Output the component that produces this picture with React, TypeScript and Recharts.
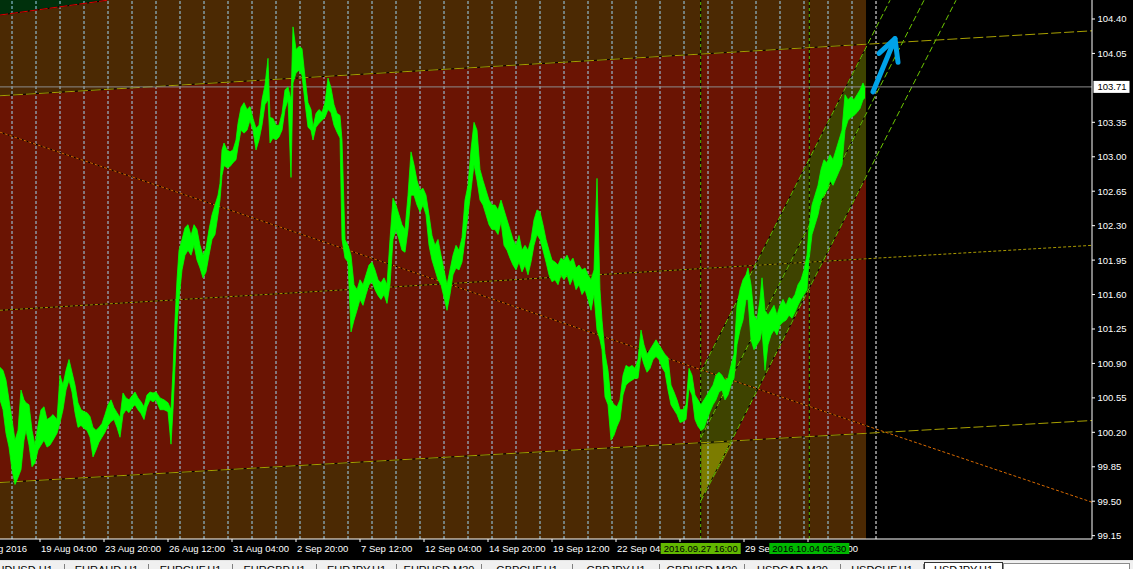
import React from "react";
import {
  ComposedChart, Area, Line, XAxis, YAxis, ReferenceLine, ReferenceArea,
} from "recharts";

// USDJPY H1, one x unit = one hourly bar (bar 0 = first visible bar, 17 Aug 2016)
const Y_MIN = 99.116;
const Y_MAX = 104.593;
const LAST_BAR = 866;
const RIGHT_EDGE = 1092;

// [bar, high, low]
const legAug17 = [
  [0, 100.86, 100.53], [3, 100.83, 100.43], [6, 100.73, 100.19], [9, 100.53, 100.05], [12, 100.33, 99.82],
  [15, 100.12, 99.67], [18, 100.22, 99.74], [21, 100.63, 99.82], [24, 100.53, 100.12], [26, 100.5, 100.22],
  [29, 100.48, 100.07], [32, 100.22, 99.85], [35, 100.07, 99.89], [38, 100.27, 100.02], [41, 100.43, 100.07],
  [44, 100.46, 100.12], [47, 100.33, 100.05], [50, 100.35, 100.07], [53, 100.38, 100.12], [57, 100.33, 100.19],
  [60, 100.78, 100.3], [63, 100.68, 100.43], [66, 100.83, 100.63], [69, 100.94, 100.73], [72, 100.81, 100.61],
  [75, 100.68, 100.4], [78, 100.5, 100.25], [81, 100.43, 100.27], [84, 100.41, 100.24], [87, 100.4, 100.22],
  [90, 100.36, 100.15], [93, 100.25, 99.95], [96, 100.22, 100.02], [99, 100.25, 100.1], [102, 100.29, 100.15],
  [105, 100.38, 100.2], [108, 100.48, 100.27], [111, 100.53, 100.31], [114, 100.45, 100.33], [117, 100.4, 100.25],
  [120, 100.35, 100.15], [123, 100.6, 100.38], [126, 100.55, 100.43], [129, 100.53, 100.4], [132, 100.57, 100.45],
  [135, 100.61, 100.48], [138, 100.55, 100.43], [141, 100.51, 100.39], [144, 100.46, 100.33], [147, 100.58, 100.46],
  [150, 100.61, 100.53], [153, 100.6, 100.51], [156, 100.61, 100.53], [160, 100.55, 100.43], [164, 100.53, 100.43],
  [168, 100.5, 100.41], [171, 100.43, 100.08], [173, 100.83, 100.43], [175, 101.34, 100.86], [177, 101.75, 101.29],
];

const legAug26 = [
  [179, 102.05, 101.55], [182, 102.16, 101.85], [185, 102.28, 102.0], [188, 102.31, 102.05], [191, 102.2, 102.0],
  [194, 102.31, 102.1], [197, 102.26, 101.95], [200, 102.1, 101.87], [203, 102.0, 101.77], [206, 102.07, 101.83],
  [209, 102.26, 102.0], [212, 102.41, 102.16], [215, 102.51, 102.21], [218, 102.61, 102.41], [220, 102.73, 102.56],
  [222, 103.07, 102.81], [224, 103.14, 102.91], [227, 103.07, 102.89], [230, 103.05, 102.9], [233, 103.07, 102.94],
  [236, 103.17, 102.97], [238, 103.34, 103.1], [241, 103.5, 103.27], [244, 103.55, 103.24], [247, 103.48, 103.27],
  [250, 103.51, 103.37], [253, 103.39, 103.27], [256, 103.29, 103.07], [259, 103.32, 103.17], [262, 103.58, 103.32],
  [265, 103.73, 103.53], [268, 104.0, 103.58], [270, 103.4, 103.14], [273, 103.39, 103.19], [276, 103.32, 103.17],
  [279, 103.32, 103.2], [282, 103.44, 103.27], [285, 103.68, 103.48], [288, 103.71, 103.58], [291, 103.58, 102.79],
  [293, 104.32, 103.75], [296, 104.09, 103.85], [299, 104.12, 103.88], [302, 104.1, 103.83], [305, 103.81, 103.55],
  [308, 103.55, 103.3], [311, 103.48, 103.27], [313, 103.3, 103.17], [316, 103.44, 103.3], [319, 103.48, 103.34],
  [322, 103.45, 103.37], [325, 103.55, 103.4], [328, 103.8, 103.48], [331, 103.7, 103.45], [334, 103.53, 103.32],
  [337, 103.44, 103.25], [340, 103.42, 103.19], [342, 103.17, 102.16],
];

const legSep2 = [
  [345, 102.16, 101.97], [348, 102.1, 101.93], [351, 102.0, 101.22], [354, 101.7, 101.34], [357, 101.65, 101.44],
  [360, 101.75, 101.55], [363, 101.7, 101.49], [366, 101.8, 101.6], [369, 101.9, 101.7], [372, 101.93, 101.73],
  [375, 101.85, 101.65], [378, 101.75, 101.59], [381, 101.72, 101.55], [384, 101.77, 101.6], [387, 101.7, 101.51],
  [390, 102.16, 101.7], [393, 102.58, 102.16], [396, 102.51, 102.26], [399, 102.41, 102.16], [402, 102.31, 102.05],
  [405, 102.26, 102.03], [408, 102.61, 102.26], [411, 103.05, 102.61], [414, 102.92, 102.61], [417, 102.76, 102.51],
  [420, 102.66, 102.44], [423, 102.68, 102.51], [426, 102.61, 102.41], [429, 102.41, 102.1], [432, 102.2, 101.95],
  [435, 102.1, 101.85], [438, 102.16, 101.75], [441, 102.0, 101.7], [444, 101.85, 101.57], [447, 101.7, 101.44],
  [450, 101.85, 101.6], [453, 102.0, 101.8], [456, 102.1, 101.87], [459, 102.05, 101.85], [462, 102.18, 101.93],
  [465, 102.56, 102.16], [468, 102.71, 102.41], [471, 103.07, 102.66], [474, 103.35, 102.92], [477, 103.27, 102.76],
  [480, 102.87, 102.56], [483, 102.76, 102.51], [486, 102.66, 102.41], [489, 102.56, 102.31], [492, 102.51, 102.26],
  [495, 102.51, 102.26], [498, 102.46, 102.21], [501, 102.56, 102.34], [504, 102.46, 102.1], [507, 102.36, 102.05],
  [510, 102.26, 101.97], [513, 102.16, 101.9], [516, 102.1, 101.85], [519, 102.2, 101.93], [522, 102.05, 101.83],
  [525, 102.1, 101.9], [528, 102.05, 101.8], [531, 102.16, 101.93], [534, 102.36, 102.1], [537, 102.46, 102.21],
  [540, 102.44, 102.16], [543, 102.31, 102.05], [546, 102.16, 101.93], [549, 102.05, 101.8], [552, 101.95, 101.73],
  [555, 101.93, 101.75], [558, 101.9, 101.7], [561, 101.97, 101.8], [564, 101.95, 101.75], [567, 102.0, 101.8],
  [570, 101.93, 101.7], [573, 101.97, 101.77], [576, 101.87, 101.65], [579, 101.9, 101.7], [582, 101.85, 101.6],
  [585, 101.87, 101.65], [588, 101.8, 101.55], [591, 101.75, 101.44], [594, 101.85, 101.6], [597, 102.78, 101.24],
  [600, 101.65, 101.14], [602, 101.34, 101.04],
];

const legSep20 = [
  [605, 101.0, 100.56], [608, 100.83, 100.48], [611, 100.53, 100.12], [614, 100.48, 100.17], [617, 100.46, 100.26],
  [620, 100.53, 100.33], [623, 100.78, 100.58], [626, 100.88, 100.68], [629, 100.86, 100.71], [632, 100.88, 100.73],
  [635, 100.85, 100.75], [638, 100.94, 100.75], [641, 101.24, 100.99], [644, 101.09, 100.89], [647, 100.99, 100.81],
  [650, 101.04, 100.85], [653, 101.09, 100.94], [656, 101.14, 100.97], [659, 101.09, 100.94], [662, 101.04, 100.86],
  [665, 100.99, 100.81], [668, 100.96, 100.63], [671, 100.68, 100.48], [674, 100.61, 100.43], [677, 100.53, 100.38],
  [680, 100.43, 100.3], [683, 100.43, 100.31], [686, 100.48, 100.33], [689, 100.85, 100.65], [692, 100.78, 100.58],
  [695, 100.58, 100.33], [698, 100.53, 100.26], [701, 100.48, 100.22], [704, 100.53, 100.24], [707, 100.58, 100.33],
  [710, 100.63, 100.41], [713, 100.68, 100.48], [716, 100.78, 100.53], [719, 100.81, 100.61], [722, 100.78, 100.63],
  [725, 100.73, 100.53], [728, 100.75, 100.58], [731, 100.88, 100.68], [734, 100.99, 100.75], [737, 101.49, 101.09],
  [740, 101.65, 101.24], [743, 101.75, 101.34], [746, 101.8, 101.55], [748, 101.87, 101.55], [751, 101.7, 101.14],
  [754, 101.39, 101.04], [757, 101.34, 101.09], [760, 101.55, 101.14], [762, 101.77, 101.24], [765, 101.44, 100.83],
  [768, 101.39, 101.09], [771, 101.44, 101.19], [774, 101.49, 101.24], [777, 101.39, 101.19], [780, 101.49, 101.29],
  [783, 101.55, 101.32], [786, 101.49, 101.34], [789, 101.57, 101.39], [792, 101.55, 101.36], [795, 101.6, 101.42],
  [798, 101.7, 101.49], [801, 101.75, 101.55], [804, 101.85, 101.6], [807, 102.0, 101.65], [809, 102.28, 101.95],
  [812, 102.51, 102.21], [815, 102.61, 102.31], [818, 102.71, 102.41], [821, 102.87, 102.56], [824, 102.97, 102.61],
  [827, 102.94, 102.66], [830, 103.02, 102.76], [833, 102.97, 102.71], [836, 103.07, 102.78], [839, 103.17, 102.85],
  [842, 103.27, 102.92], [845, 103.63, 103.27], [848, 103.58, 103.37], [851, 103.61, 103.4], [854, 103.58, 103.42],
  [857, 103.63, 103.45], [860, 103.68, 103.49], [863, 103.75, 103.58], [865, 103.7, 103.6],
];

const bidPrice = 103.71;

const timeTickBars = [0, 40, 104, 168, 232, 296, 360, 424, 488, 552, 616, 680, 744, 808];
const timeTickLabels = [
  "17 Aug 2016", "19 Aug 04:00", "23 Aug 20:00", "26 Aug 12:00", "31 Aug 04:00", "2 Sep 20:00", "7 Sep 12:00",
  "12 Sep 04:00", "14 Sep 20:00", "19 Sep 12:00", "22 Sep 04:00", "26 Sep 20:00", "29 Sep 12:00", "4 Oct 04:00",
];
const markerBars = [700.7, 809.3];
const markerLabels = ["2016.09.27 16:00", "2016.10.04 05:30"];
const markerFills = ["#62b800", "#00b800"];

const priceTicks = [
  104.4, 104.05, 103.35, 103.0, 102.65, 102.3, 101.95, 101.6, 101.25, 100.9, 100.55, 100.2, 99.85, 99.5, 99.15,
];

const gridBars = [
  12, 36, 60, 84, 108, 132, 156, 180, 204, 228, 252, 276, 300, 324, 348, 372, 396, 420, 444,
  468, 492, 516, 540, 564, 588, 612, 636, 660, 684, 708, 732, 756, 780, 804, 828, 852, 876,
];

// long channel (red), its mid line and the falling trend line
const channelBars = [0, 1092];
const channelUpper = [103.62, 104.28];
const channelLower = [99.69, 100.32];
const channelMid = [101.44, 102.1];
const fallingLine = [103.25, 99.49];
const channelFillBars = [0, 866];
const channelFillTop = [103.62, 104.14];
const channelFillBottom = [99.69, 100.19];

// upper channel corner (top left)
const cornerBars = [0, 107];
const cornerEdge = [104.44, 104.59];

// rising channel from 27 Sep
const riseFillBars = [700.7, 866];
const riseFillTop = [100.81, 104.11];
const riseFillBottom = [99.5, 102.8];
const riseTipBars = [700.7, 733];
const riseTipTop = [100.08, 100.1];
const riseTipBottom = [99.5, 100.1];
const riseUpperBars = [700.7, 890];
const riseUpper = [100.81, 104.59];
const riseMidBars = [700.7, 924];
const riseMid = [100.14, 104.59];
const riseLowerBars = [700.7, 956];
const riseLower = [99.5, 104.59];

// hand-drawn arrow
const arrowBars = [873, 895, 898];
const arrowPrices = [103.66, 104.2, 103.96];
const arrowWingBars = [879, 895];
const arrowWingPrices = [104.05, 104.2];

const tabNames = [
  "AUDUSD,H1", "EURAUD,H1", "EURCHF,H1", "EURGBP,H1", "EURJPY,H1", "EURUSD,M30",
  "GBPCHF,H1", "GBPJPY,H1", "GBPUSD,M30", "USDCAD,M30", "USDCHF,H1", "USDJPY,H1",
];
const tabEdges = [-22, 65, 149, 233, 317, 397, 482, 573, 660, 745, 841, 924, 1003];

const FONT = "'Liberation Sans', Arial, sans-serif";

const pts = (bars: number[], vals: number[]) => bars.map((x, i) => ({ x, y: vals[i] }));
const band = (bars: number[], lo: number[], hi: number[]) => bars.map((x, i) => ({ x, y: [lo[i], hi[i]] }));

const priceData = [...legAug17, ...legAug26, ...legSep2, ...legSep20].map(([x, h, l]) => ({ x, y: [l, h] }));

function TimeTick(props: any) {
  const { x, y, payload } = props;
  const v = payload.value;
  const m = markerBars.indexOf(v);
  if (m >= 0) {
    return (
      <g>
        <rect x={x - 40} y={y + 4} width={80} height={11} fill={markerFills[m]} />
        <text x={x} y={y + 12.7} textAnchor="middle" fill="#000" fontSize={9.5} fontFamily={FONT}>
          {markerLabels[m]}
        </text>
      </g>
    );
  }
  const i = timeTickBars.indexOf(v);
  if (i === 0) {
    return (
      <text x={x + 27} y={y + 12.7} textAnchor="end" fill="#fff" fontSize={9.5} fontFamily={FONT}>
        {timeTickLabels[i]}
      </text>
    );
  }
  return (
    <g>
      <line x1={x} x2={x} y1={y} y2={y + 3} stroke="#fff" />
      <text x={x + 1} y={y + 12.7} fill="#fff" fontSize={9.5} fontFamily={FONT}>
        {timeTickLabels[i]}
      </text>
    </g>
  );
}

function PriceTick(props: any) {
  const { x, y, payload } = props;
  const v = payload.value;
  if (v === bidPrice) {
    return (
      <g>
        <rect x={x + 1.5} y={y - 6} width={36} height={12} fill="#fff" />
        <text x={x + 5.5} y={y + 3.5} fill="#000" fontSize={9.5} fontFamily={FONT}>
          {v.toFixed(2)}
        </text>
      </g>
    );
  }
  return (
    <g>
      <line x1={x} x2={x + 3} y1={y} y2={y} stroke="#fff" />
      <text x={x + 5.5} y={y + 3.5} fill="#fff" fontSize={9.5} fontFamily={FONT}>
        {v.toFixed(2)}
      </text>
    </g>
  );
}

// dashed MT4 style line: background-coloured gaps under a coloured dash
function dashedPair(key: string, data: any[], color: string, dash: string, z: number) {
  return [
    <Line key={key + "-bg"} data={data} dataKey="y" stroke="#000" strokeWidth={1} dot={false} activeDot={false}
      isAnimationActive={false} zIndex={z} />,
    <Line key={key} data={data} dataKey="y" stroke={color} strokeWidth={1} strokeDasharray={dash} dot={false}
      activeDot={false} isAnimationActive={false} zIndex={z + 1} />,
  ];
}

export default function App() {
  const active = tabNames.length - 1;
  return (
    <div style={{ position: "fixed", left: 0, top: 0, width: 1133, height: 569, background: "#000", overflow: "hidden" }}>
      <ComposedChart width={1133} height={560} margin={{ top: 0, right: 0, bottom: 0, left: 0 }}>
        <XAxis
          dataKey="x"
          type="number"
          domain={[0, RIGHT_EDGE]}
          allowDataOverflow
          ticks={[...timeTickBars, ...markerBars]}
          interval={0}
          tick={<TimeTick />}
          tickLine={false}
          tickSize={0}
          tickMargin={0}
          height={21}
          axisLine={{ stroke: "#fff" }}
        />
        <YAxis
          orientation="right"
          type="number"
          domain={[Y_MIN, Y_MAX]}
          allowDataOverflow
          ticks={[...priceTicks, bidPrice]}
          interval={0}
          tick={<PriceTick />}
          tickLine={false}
          tickSize={0}
          tickMargin={0}
          width={41}
          axisLine={{ stroke: "#fff" }}
        />

        <ReferenceArea x1={0} x2={LAST_BAR} y1={Y_MIN} y2={Y_MAX} fill="#4b2903" fillOpacity={1} stroke="none"
          ifOverflow="visible" zIndex={50} />

        <Area data={cornerBars.map((x, i) => ({ x, y: [cornerEdge[i], Y_MAX] }))} dataKey="y" type="linear"
          fill="#00300c" fillOpacity={1} stroke="none" dot={false} activeDot={false} isAnimationActive={false}
          zIndex={60} />
        <Area data={band(channelFillBars, channelFillBottom, channelFillTop)} dataKey="y" type="linear"
          fill="#6a1403" fillOpacity={1} stroke="none" dot={false} activeDot={false} isAnimationActive={false}
          zIndex={70} />
        <Area data={band(riseFillBars, riseFillBottom, riseFillTop)} dataKey="y" type="linear"
          fill="#3e4300" fillOpacity={1} stroke="none" dot={false} activeDot={false} isAnimationActive={false}
          zIndex={80} />
        <Area data={band(riseTipBars, riseTipBottom, riseTipTop)} dataKey="y" type="linear"
          fill="#7c7c00" fillOpacity={1} stroke="none" dot={false} activeDot={false} isAnimationActive={false}
          zIndex={90} />

        {gridBars.map((b) => (
          <ReferenceLine key={"g" + b} x={b} stroke={b > LAST_BAR ? "#ffffff" : "#9fd6f5"} strokeDasharray="3 2"
            zIndex={110} />
        ))}

        {markerBars.map((b) => (
          <ReferenceLine key={"mb" + b} x={b} stroke="#000" zIndex={120} />
        ))}
        {markerBars.map((b) => (
          <ReferenceLine key={"m" + b} x={b} stroke="#5cc000" strokeDasharray="3 3" zIndex={121} />
        ))}

        {dashedPair("corner", pts(cornerBars, cornerEdge), "#e00000", "8 2", 130)}
        {dashedPair("upper", pts(channelBars, channelUpper), "#a8a000", "10 3", 132)}
        {dashedPair("lower", pts(channelBars, channelLower), "#a8a000", "10 3", 134)}
        {dashedPair("mid", pts(channelBars, channelMid), "#a89800", "3 2", 136)}
        {dashedPair("fall", pts(channelBars, fallingLine), "#d86a00", "3 2", 138)}
        {dashedPair("riseU", pts(riseUpperBars, riseUpper), "#6cc800", "6 3", 140)}
        {dashedPair("riseM", pts(riseMidBars, riseMid), "#6cc800", "6 3", 142)}
        {dashedPair("riseL", pts(riseLowerBars, riseLower), "#6cc800", "6 3", 144)}

        <ReferenceLine y={bidPrice} stroke="#8c8c8c" zIndex={150} />

        <Area data={priceData} dataKey="y" type="linear" fill="#00ff00" fillOpacity={1} stroke="#00ff00"
          strokeWidth={0.8} dot={false} activeDot={false} isAnimationActive={false} zIndex={160} />

        <Line data={pts(arrowBars, arrowPrices)} dataKey="y" stroke="#00a2e8" strokeWidth={5} strokeLinecap="round"
          strokeLinejoin="round" dot={false} activeDot={false} isAnimationActive={false} zIndex={170} />
        <Line data={pts(arrowWingBars, arrowWingPrices)} dataKey="y" stroke="#00a2e8" strokeWidth={5}
          strokeLinecap="round" dot={false} activeDot={false} isAnimationActive={false} zIndex={171} />
      </ComposedChart>

      <div style={{ position: "absolute", left: 0, top: 560, width: 1133, height: 9, background: "#f0f0f0",
        borderTop: "1px solid #e4e4e4", overflow: "hidden", fontFamily: FONT, fontSize: 11 }}>
        {tabNames.map((n, i) => (
          <div key={n} style={{
            position: "absolute", left: tabEdges[i], width: tabEdges[i + 1] - tabEdges[i], top: i === active ? 1 : 3,
            height: 20, boxSizing: "border-box", textAlign: "center", lineHeight: "13px", color: "#000",
            background: i === active ? "#fff" : "transparent",
            borderLeft: i === active ? "1px solid #333" : "none",
            borderRight: i === active ? "1px solid #333" : "1px solid #808080",
            borderTop: i === active ? "1px solid #333" : "none",
            paddingTop: i === active ? 1 : 0,
          }}>{n}</div>
        ))}
        <div style={{ position: "absolute", left: 1003, width: 127, top: 2, height: 20, boxSizing: "border-box",
          background: "#fff", border: "1px solid #8a8a8a" }} />
      </div>
    </div>
  );
}
